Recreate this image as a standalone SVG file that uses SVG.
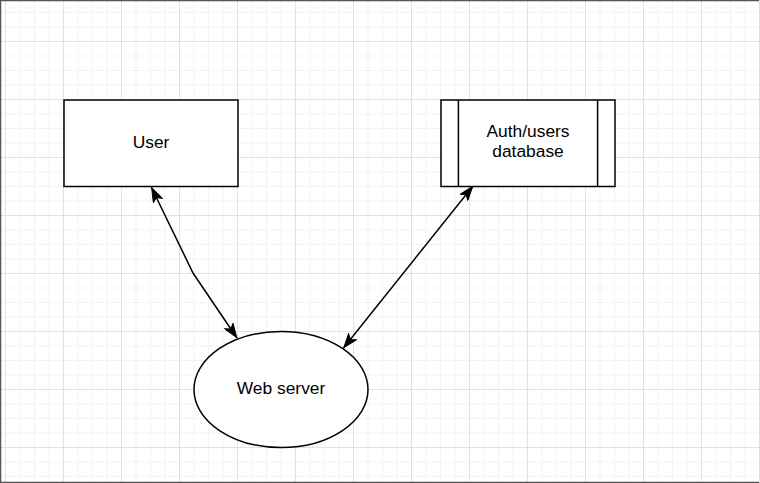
<svg xmlns="http://www.w3.org/2000/svg" width="760" height="483" viewBox="0 0 760 483">
  <defs>
    <pattern id="grid" patternUnits="userSpaceOnUse" x="5" y="41" width="58" height="58">
      <path d="M15,0 V58 M29.5,0 V58 M44,0 V58 M0,15 H58 M0,29.5 H58 M0,44 H58" stroke="#f3f3f3" stroke-width="1" fill="none"/>
      <path d="M0.5,0 V58 M0,0.5 H58" stroke="#e2e2e2" stroke-width="1" fill="none"/>
    </pattern>
    <marker id="arrow" viewBox="0 0 15 11" refX="15" refY="5.5" markerWidth="15" markerHeight="11" markerUnits="userSpaceOnUse" orient="auto-start-reverse">
      <path d="M0.5,0.5 L14.5,5.5 L0.5,10.5 L4,5.5 Z" fill="#000" stroke="#000" stroke-width="1" stroke-linejoin="miter"/>
    </marker>
    <style>
      .node { fill: #fff; stroke: #000; stroke-width: 1.5; }
      .div { fill: none; stroke: #000; stroke-width: 1.5; }
      .label { font-family: "Liberation Sans", Arial, Helvetica, sans-serif; font-size: 17.4px; fill: #000; text-anchor: middle; }
      .edge { fill: none; stroke: #000; stroke-width: 1.5; marker-start: url(#arrow); marker-end: url(#arrow); }
    </style>
  </defs>
  <rect x="0" y="0" width="760" height="483" fill="#fff"/>
  <rect x="0" y="0" width="760" height="483" fill="url(#grid)"/>
  <path d="M0.5,483 V0.5 H760" fill="none" stroke="#555" stroke-width="1.5"/>
  <path d="M0,482.5 H760" fill="none" stroke="#555" stroke-width="1.5"/>
  <path d="M759.5,0 V483" fill="none" stroke="#ddd" stroke-width="1"/>

  <g id="connectors">
    <path class="edge" d="M151.5,187.5 L193,273 L237,338"/>
    <path class="edge" d="M473,186 L343.5,348"/>
  </g>

  <g id="user">
    <rect class="node" x="64" y="100" width="174" height="86.5"/>
    <text class="label" x="151" y="147.5">User</text>
  </g>

  <g id="auth-db">
    <rect class="node" x="441" y="100" width="174" height="86.5"/>
    <path class="div" d="M458.4,100 V186.5 M597.6,100 V186.5"/>
    <text class="label" x="528" y="137">Auth/users</text>
    <text class="label" x="528" y="157">database</text>
  </g>

  <g id="web-server">
    <ellipse class="node" cx="281" cy="389.5" rx="87" ry="58"/>
    <text class="label" x="281" y="393.5">Web server</text>
  </g>
</svg>
